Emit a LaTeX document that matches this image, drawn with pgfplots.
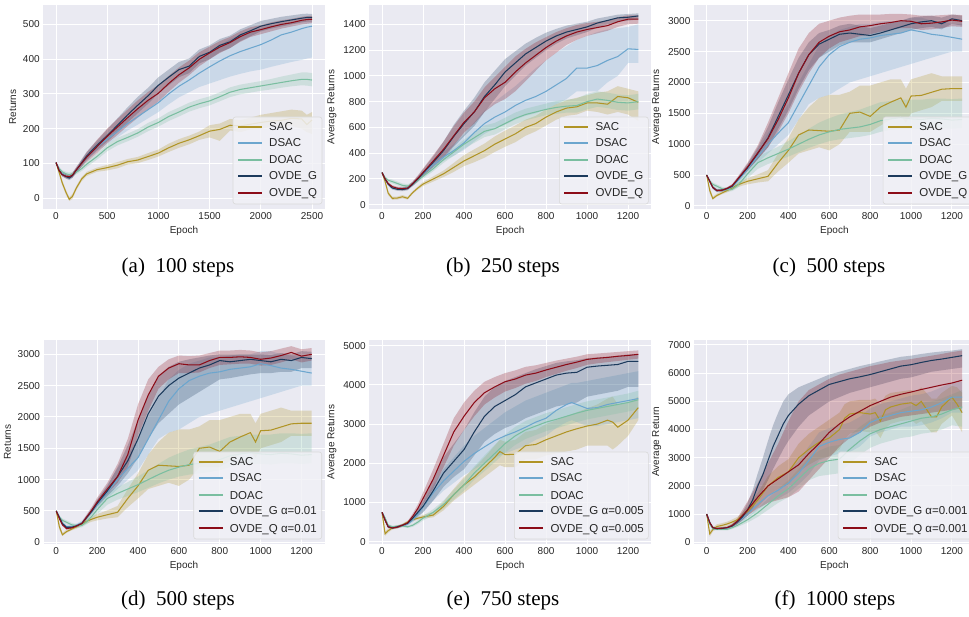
\documentclass[border=0pt]{standalone}
\usepackage{fontspec}
\setmainfont{Liberation Sans}
\newfontfamily\capfont{Liberation Serif}
\usepackage{pgfplots}
\pgfplotsset{compat=1.18}
\usepackage{pgfplotstable}
\usepgfplotslibrary{fillbetween}

\definecolor{bgc}{RGB}{234,234,242}
\definecolor{legc}{RGB}{241,241,246}
\definecolor{labc}{RGB}{38,38,38}
\definecolor{sacc}{RGB}{176,148,38}
\definecolor{dsacc}{RGB}{108,166,206}
\definecolor{doacc}{RGB}{122,190,160}
\definecolor{gc}{RGB}{28,58,92}
\definecolor{qc}{RGB}{140,12,24}

% ---------- panel (a): 100 steps ----------
\pgfplotstableread{
x m l u
0 102 100 104
30 75 70 80
60 45 38 52
100 15 8 22
130 -3 -8 3
160 5 -2 12
200 30 24 36
250 55 49 61
300 70 64 76
400 82 76 88
500 88 80 96
600 95 86 104
700 105 97 113
800 110 101 119
900 120 110 130
1000 130 120 140
1100 145 133 157
1200 158 145 170
1300 168 155 180
1400 180 168 192
1500 193 175 210
1600 198 165 215
1700 210 195 228
1800 208 190 225
1900 213 198 232
2000 218 200 240
2100 222 205 245
2200 224 205 250
2300 230 208 255
2400 228 200 252
2450 212 190 240
2500 225 185 248
}\tAsac
\pgfplotstableread{
x m l u
0 102 100 104
30 85 80 90
60 72 67 77
100 63 57 69
130 60 54 66
160 66 60 72
200 80 73 87
250 100 92 108
300 118 108 128
400 148 135 160
500 170 155 185
600 192 175 208
700 215 195 235
800 235 212 258
900 255 230 280
1000 275 248 302
1100 300 270 330
1200 322 290 355
1300 340 305 378
1400 360 320 400
1500 378 330 420
1600 395 340 440
1700 410 350 458
1800 422 358 470
1900 432 365 480
2000 442 370 490
2100 455 378 497
2200 470 385 503
2300 478 392 507
2400 488 398 510
2450 492 402 510
2500 495 405 510
}\tAdsac
\pgfplotstableread{
x m l u
0 102 100 104
30 85 80 90
60 76 71 81
100 70 64 76
130 68 62 74
160 70 64 76
200 75 69 81
250 85 78 92
300 98 90 106
400 120 111 129
500 145 135 155
600 163 152 174
700 175 164 186
800 188 177 199
900 205 193 217
1000 218 206 230
1100 235 222 248
1200 248 235 261
1300 262 249 275
1400 272 259 285
1500 280 267 293
1600 292 279 305
1700 305 291 319
1800 313 299 327
1900 318 304 332
2000 323 309 337
2100 328 313 343
2200 333 318 350
2300 338 322 356
2400 342 325 362
2450 342 324 362
2500 340 322 360
}\tAdoac
\pgfplotstableread{
x m l u
0 103 101 105
30 80 75 85
60 68 63 73
100 62 56 68
130 58 52 64
160 65 58 72
200 82 74 90
250 102 92 112
300 122 110 134
400 152 138 166
500 180 163 198
600 210 190 230
700 240 218 262
800 268 245 292
900 295 272 318
1000 325 302 348
1100 348 325 370
1200 370 348 392
1300 380 360 402
1400 408 388 428
1500 420 400 440
1600 440 420 458
1700 450 432 468
1800 470 452 486
1900 482 466 498
2000 495 480 510
2100 502 488 516
2200 508 494 522
2300 513 500 526
2400 518 506 530
2450 520 508 531
2500 520 508 530
}\tAg
\pgfplotstableread{
x m l u
0 103 101 105
30 80 75 85
60 68 63 73
100 63 57 69
130 62 56 68
160 66 59 73
200 82 74 90
250 100 90 110
300 118 105 132
400 148 130 168
500 178 158 200
600 205 182 228
700 232 208 255
800 258 232 282
900 282 256 306
1000 302 278 326
1100 330 306 352
1200 355 332 376
1300 375 354 396
1400 400 380 420
1500 418 400 436
1600 435 418 452
1700 448 432 464
1800 465 450 480
1900 478 464 492
2000 485 472 498
2100 493 480 506
2200 500 488 512
2300 505 494 516
2400 512 500 522
2450 514 502 524
2500 515 504 525
}\tAq

% ---------- panel (b): 250 steps ----------
\pgfplotstableread{
x m l u
0 250 245 255
15 180 170 190
30 90 75 105
50 50 38 62
75 52 40 64
100 62 50 75
125 50 40 62
150 95 85 105
175 130 118 142
200 160 145 175
250 200 180 220
300 240 215 265
350 290 255 325
400 340 300 385
450 380 330 430
500 420 365 475
550 470 410 530
600 510 450 575
650 550 485 615
700 600 535 660
750 630 570 690
800 680 615 740
850 720 660 780
900 750 690 810
950 760 700 830
1000 790 730 850
1050 790 720 870
1100 780 700 880
1150 840 720 920
1200 830 700 900
1250 795 650 880
}\tBsac
\pgfplotstableread{
x m l u
0 250 245 255
15 200 190 210
30 160 150 170
50 135 125 145
75 125 115 135
100 125 115 135
125 135 125 145
150 165 155 178
175 200 188 215
200 240 225 258
250 310 290 335
300 370 340 410
350 420 380 470
400 480 425 545
450 560 490 640
500 630 550 730
550 680 590 800
600 720 620 860
650 770 660 920
700 810 690 990
750 840 710 1060
800 880 740 1120
850 930 780 1180
900 980 820 1230
950 1060 880 1280
1000 1060 880 1310
1050 1080 880 1340
1100 1120 950 1360
1150 1150 1000 1370
1200 1210 1100 1380
1250 1205 1100 1400
}\tBdsac
\pgfplotstableread{
x m l u
0 250 245 255
15 210 200 220
30 190 178 202
50 180 165 195
75 165 150 180
100 150 135 165
125 145 130 160
150 160 145 175
175 190 175 205
200 220 203 237
250 280 260 300
300 350 325 375
350 410 380 440
400 470 435 505
450 520 480 560
500 570 525 615
550 590 545 635
600 630 585 675
650 670 625 715
700 700 655 745
750 720 675 765
800 740 695 785
850 755 705 805
900 765 715 815
950 770 715 825
1000 800 740 860
1050 820 760 880
1100 810 750 870
1150 795 735 855
1200 790 730 850
1250 800 740 860
}\tBdoac
\pgfplotstableread{
x m l u
0 250 245 255
15 200 190 210
30 160 150 170
50 130 118 142
75 120 108 132
100 118 105 130
125 125 112 140
150 160 145 178
175 200 180 222
200 245 220 275
250 330 290 375
300 420 360 490
350 530 450 620
400 630 530 730
450 720 610 830
500 840 720 950
550 930 820 1040
600 1030 920 1130
650 1100 1000 1190
700 1170 1080 1250
750 1220 1140 1295
800 1270 1200 1335
850 1310 1250 1365
900 1340 1290 1390
950 1360 1315 1405
1000 1380 1340 1420
1050 1410 1375 1445
1100 1430 1400 1460
1150 1450 1420 1475
1200 1455 1428 1480
1250 1465 1440 1485
}\tBg
\pgfplotstableread{
x m l u
0 250 245 255
15 200 190 210
30 165 155 175
50 140 128 152
75 128 115 140
100 125 112 138
125 130 117 145
150 165 150 182
175 205 185 228
200 250 225 280
250 340 300 385
300 430 370 490
350 535 460 610
400 640 560 715
450 720 630 800
500 830 720 910
550 900 780 990
600 950 820 1070
650 1030 880 1150
700 1100 960 1210
750 1160 1040 1260
800 1220 1120 1300
850 1270 1180 1340
900 1310 1240 1370
950 1340 1280 1395
1000 1360 1310 1410
1050 1375 1330 1420
1100 1390 1350 1430
1150 1420 1380 1455
1200 1440 1400 1470
1250 1440 1405 1470
}\tBq

% ---------- panels (c),(d): 500 steps ----------
\pgfplotstableread{
x m l u
0 500 490 510
15 250 200 300
30 120 100 150
50 170 150 200
75 210 190 240
100 250 220 280
125 290 260 320
150 340 300 380
175 370 330 410
200 400 350 450
250 440 380 510
300 480 400 580
350 700 560 850
400 900 700 1100
450 1150 850 1400
500 1230 900 1600
550 1220 950 1750
600 1210 900 1800
650 1230 1000 1800
700 1500 1200 1850
750 1520 1200 1950
800 1450 1200 1950
850 1600 1300 2000
900 1680 1400 2050
950 1750 1450 2050
975 1600 1350 1900
1000 1780 1500 2050
1050 1790 1550 2100
1100 1840 1600 2150
1150 1890 1700 2100
1200 1900 1700 2100
1250 1900 1700 2100
}\tCsac
\pgfplotstableread{
x m l u
0 500 490 510
15 400 370 430
30 300 270 330
50 250 220 280
75 250 220 280
100 270 240 300
125 310 280 345
150 400 360 440
175 500 450 560
200 600 540 670
250 800 700 920
300 1000 850 1180
350 1180 1000 1400
400 1350 1150 1650
450 1650 1400 2000
500 1950 1650 2300
550 2250 1750 2600
600 2450 1800 2750
650 2580 1900 2850
700 2650 2000 2900
750 2700 2050 2950
800 2720 2100 2950
850 2760 2150 2980
900 2780 2200 3000
950 2800 2250 3000
1000 2850 2300 3050
1050 2820 2350 3050
1100 2780 2400 3000
1150 2760 2450 2980
1200 2730 2500 2950
1250 2700 2500 2950
}\tCdsac
\pgfplotstableread{
x m l u
0 500 490 510
15 400 370 430
30 350 320 380
50 320 290 350
75 280 250 310
100 260 230 290
125 270 240 300
150 330 290 370
175 420 370 470
200 520 450 590
250 700 600 800
300 780 680 880
350 850 740 960
400 920 800 1050
450 1000 870 1150
500 1080 940 1250
550 1150 1000 1350
600 1200 1050 1420
650 1240 1080 1480
700 1260 1100 1520
750 1280 1120 1560
800 1320 1150 1620
850 1380 1200 1680
900 1410 1230 1700
950 1430 1250 1720
1000 1410 1250 1720
1050 1400 1240 1720
1100 1420 1260 1740
1150 1410 1260 1740
1200 1390 1250 1730
1250 1400 1260 1740
}\tCdoac
\pgfplotstableread{
x m l u
0 500 490 510
15 400 380 420
30 300 280 320
50 250 230 270
75 255 235 275
100 280 260 300
125 320 295 345
150 420 390 450
175 520 480 560
200 620 570 680
250 850 760 950
300 1100 950 1280
350 1450 1250 1680
400 1800 1550 2050
450 2150 1900 2400
500 2450 2200 2650
550 2620 2400 2800
600 2700 2500 2850
650 2780 2600 2920
700 2800 2650 2950
750 2780 2650 2920
800 2760 2650 2880
850 2800 2700 2920
900 2850 2750 2960
950 2900 2800 3000
1000 2950 2850 3050
1050 2980 2880 3070
1100 3000 2900 3080
1150 2950 2860 3050
1200 3030 2950 3100
1250 3000 2920 3080
}\tCg
\pgfplotstableread{
x m l u
0 500 490 510
15 400 380 420
30 300 280 320
50 250 230 270
75 255 235 275
100 285 265 305
125 330 305 355
150 430 400 465
175 530 490 580
200 630 580 700
250 860 760 980
300 1090 950 1350
350 1400 1200 1750
400 1750 1500 2150
450 2150 1850 2550
500 2450 2150 2800
550 2650 2400 2950
600 2750 2550 3000
650 2820 2650 3050
700 2850 2700 3080
750 2900 2750 3100
800 2920 2780 3100
850 2950 2820 3100
900 2970 2850 3110
950 3000 2880 3110
1000 2990 2880 3100
1050 2950 2850 3080
1100 2960 2860 3080
1150 2980 2880 3090
1200 3010 2910 3100
1250 2990 2900 3090
}\tCq
\pgfplotstableread{
x m l u
0 500 490 510
15 400 380 420
30 300 280 320
50 240 220 260
75 240 220 260
100 265 245 285
125 300 280 320
150 400 375 425
175 500 470 530
200 620 570 680
250 820 740 900
300 1050 900 1200
350 1300 1100 1550
400 1650 1350 1950
450 2050 1650 2350
500 2330 1900 2650
550 2500 2050 2800
600 2620 2200 2880
650 2700 2300 2920
700 2780 2400 2950
750 2830 2500 2980
800 2900 2600 3000
850 2880 2620 3000
900 2900 2650 3000
950 2920 2680 3000
1000 2900 2700 3000
1050 2880 2700 2990
1100 2920 2720 3020
1150 2900 2720 3000
1200 2950 2780 3050
1250 2930 2780 3040
}\tDg
\pgfplotstableread{
x m l u
0 500 490 510
15 380 360 400
30 280 260 300
50 220 200 240
75 230 210 250
100 260 240 280
125 300 275 325
150 410 380 450
175 520 480 570
200 640 590 710
250 850 780 950
300 1050 950 1250
350 1400 1200 1650
400 1950 1700 2200
450 2350 2100 2600
500 2650 2450 2800
550 2780 2600 2920
600 2850 2700 2980
650 2830 2700 2970
700 2830 2710 2980
750 2900 2780 3020
800 2950 2830 3060
850 2950 2840 3060
900 2960 2850 3070
950 2950 2850 3060
1000 2920 2820 3030
1050 2940 2830 3050
1100 2980 2870 3090
1150 3030 2920 3130
1200 2970 2870 3080
1250 3000 2900 3100
}\tDq

% ---------- panel (e): 750 steps ----------
\pgfplotstableread{
x m l u
0 750 740 760
15 200 150 260
30 280 230 330
50 350 310 390
75 380 340 420
100 420 380 460
125 500 460 540
150 560 520 600
175 600 560 640
200 630 590 680
250 680 620 760
300 900 800 1020
350 1200 1050 1350
400 1450 1250 1650
450 1650 1450 1880
500 1900 1650 2150
550 2150 1850 2450
575 2300 1950 2600
600 2220 1900 2550
650 2230 1900 2600
700 2450 2100 2800
750 2480 2100 2850
800 2600 2200 3000
850 2700 2250 3100
900 2800 2300 3200
950 2880 2350 3300
1000 2950 2450 3400
1050 3000 2450 3500
1100 3100 2450 3650
1125 3050 2350 3700
1150 2920 2450 3500
1200 3100 2700 3550
1250 3420 3100 3700
}\tEsac
\pgfplotstableread{
x m l u
0 750 740 760
15 600 560 640
30 400 370 430
50 360 330 390
75 380 350 410
100 400 370 430
125 450 410 490
150 550 490 620
175 700 600 800
200 880 750 1000
250 1250 1050 1450
300 1550 1300 1850
350 1800 1500 2150
400 2050 1700 2450
450 2250 1850 2700
500 2420 2000 2900
550 2580 2150 3100
600 2700 2250 3300
650 2800 2350 3450
700 2920 2450 3600
750 3050 2600 3700
800 3150 2700 3800
850 3350 2900 3900
900 3500 3050 4000
925 3550 3100 4050
950 3500 3050 4050
1000 3400 2950 4100
1050 3420 2950 4150
1100 3500 3000 4200
1150 3550 3050 4250
1200 3600 3100 4300
1250 3650 3150 4350
}\tEdsac
\pgfplotstableread{
x m l u
0 750 740 760
15 600 570 630
30 420 390 450
50 380 350 410
75 390 360 420
100 400 370 430
125 380 350 410
150 420 380 460
175 500 450 550
200 600 540 660
250 750 670 830
300 950 850 1050
350 1200 1080 1320
400 1450 1300 1600
450 1750 1580 1920
500 2000 1800 2200
550 2250 2030 2470
600 2500 2270 2730
650 2700 2470 2930
700 2850 2620 3080
750 2950 2720 3180
800 3050 2820 3280
850 3120 2890 3350
900 3200 2970 3430
950 3280 3050 3510
1000 3350 3120 3580
1050 3400 3170 3630
1100 3450 3220 3680
1150 3500 3270 3730
1200 3550 3320 3780
1250 3620 3380 3850
}\tEdoac
\pgfplotstableread{
x m l u
0 750 740 760
15 550 520 580
30 380 350 410
50 350 320 380
75 380 350 410
100 420 390 450
125 470 430 510
150 600 540 660
175 750 650 850
200 900 750 1050
250 1300 1050 1600
300 1750 1400 2150
350 2050 1650 2500
400 2350 1850 2850
450 2800 2200 3300
500 3200 2550 3700
550 3450 2750 3950
600 3600 2900 4100
650 3750 3000 4200
700 3950 3150 4300
750 4050 3250 4400
800 4150 3350 4480
850 4250 3450 4560
900 4300 3500 4600
950 4320 3550 4630
1000 4450 3700 4680
1050 4480 3750 4700
1100 4500 3800 4720
1150 4520 3850 4740
1200 4600 3950 4780
1250 4600 3950 4780
}\tEg
\pgfplotstableread{
x m l u
0 750 740 760
15 550 520 580
30 380 350 410
50 350 320 380
75 370 340 400
100 420 390 450
125 480 440 520
150 650 580 720
175 850 750 950
200 1100 950 1250
250 1600 1350 1850
300 2200 1900 2500
350 2800 2450 3150
400 3200 2850 3550
450 3550 3200 3850
500 3800 3500 4080
550 3950 3680 4200
600 4080 3830 4300
650 4150 3920 4370
700 4250 4030 4460
750 4300 4100 4500
800 4380 4200 4560
850 4450 4280 4620
900 4520 4360 4670
950 4580 4430 4720
1000 4650 4510 4780
1050 4680 4550 4800
1100 4700 4580 4820
1150 4730 4610 4840
1200 4750 4640 4860
1250 4780 4670 4880
}\tEq

% ---------- panel (f): 1000 steps ----------
\pgfplotstableread{
x m l u
0 1000 980 1020
15 300 200 400
30 450 380 520
50 560 480 640
75 600 520 680
100 650 570 730
125 720 630 810
150 800 700 900
175 950 830 1070
200 1100 950 1250
250 1500 1250 1750
300 2000 1650 2350
350 2300 1900 2700
400 2500 2050 2950
450 3000 2500 3500
500 3300 2750 3850
550 3550 2950 4100
600 3700 3050 4350
650 4000 3300 4600
675 4400 3650 4900
700 4550 3850 5000
750 4600 3950 5050
800 4550 3900 5050
825 4600 3950 5100
850 4300 3700 4900
875 4700 4050 5200
900 4800 4200 5300
950 4900 4300 5350
1000 4950 4350 5400
1025 4850 4200 5350
1050 5000 4300 5500
1100 4450 3900 5100
1125 4450 3900 5100
1150 4800 4200 5300
1200 5150 4500 5550
1225 4900 4200 5500
1250 4600 3900 5300
}\tFsac
\pgfplotstableread{
x m l u
0 1000 980 1020
15 700 650 750
30 500 460 540
50 480 440 520
75 490 450 530
100 500 460 540
125 600 550 650
150 720 650 800
175 850 750 950
200 1000 870 1150
250 1350 1150 1550
300 1650 1400 1950
350 1850 1550 2200
400 2100 1750 2500
450 2450 2050 2900
500 2900 2400 3400
550 3400 2900 3900
600 3550 3050 4050
650 3650 3150 4150
700 3700 3200 4250
750 3900 3400 4450
800 4250 3750 4750
850 4400 3900 4900
900 4500 4000 5000
950 4600 4100 5100
1000 4650 4100 5200
1050 4700 4150 5250
1100 4800 4250 5350
1150 4950 4400 5500
1200 5150 4600 5650
1250 5150 4600 5700
}\tFdsac
\pgfplotstableread{
x m l u
0 1000 980 1020
15 650 600 700
30 480 440 520
50 460 420 500
75 460 420 500
100 460 420 500
125 520 470 570
150 600 540 660
175 700 620 780
200 800 700 900
250 1050 900 1200
300 1350 1150 1550
350 1650 1400 1900
400 1900 1600 2200
450 2250 1900 2600
500 2600 2200 3000
550 2800 2350 3250
600 2900 2400 3400
650 2950 2450 3450
700 3300 2800 3800
750 3600 3100 4100
800 3850 3350 4350
850 4000 3500 4500
900 4100 3600 4600
950 4200 3700 4700
1000 4300 3750 4850
1050 4400 3850 4950
1100 4450 3900 5000
1150 4550 4000 5100
1200 4700 4150 5250
1250 4800 4100 5400
}\tFdoac
\pgfplotstableread{
x m l u
0 1000 980 1020
15 700 650 750
30 520 480 560
50 480 440 520
75 490 450 530
100 520 480 560
125 580 530 630
150 720 640 800
175 900 780 1050
200 1150 950 1400
225 1500 1200 1850
250 2000 1550 2450
275 2400 1850 3000
300 2900 2200 3600
325 3400 2600 4150
350 3800 2950 4600
375 4200 3300 5000
400 4500 3600 5250
450 4900 4100 5500
500 5200 4500 5650
550 5400 4750 5800
600 5600 5000 5950
650 5700 5150 6050
700 5800 5300 6150
750 5870 5400 6250
800 5950 5500 6330
850 6050 5600 6420
900 6150 5700 6500
950 6250 5800 6580
1000 6300 5850 6620
1050 6380 5950 6680
1100 6450 6050 6730
1150 6500 6100 6770
1200 6560 6150 6800
1250 6620 6200 6850
}\tFg
\pgfplotstableread{
x m l u
0 1000 980 1020
15 700 650 750
30 520 480 560
50 490 450 530
75 500 460 540
100 520 480 560
125 600 540 660
150 750 650 850
175 950 800 1150
200 1150 950 1450
250 1600 1200 2100
300 2000 1400 2800
350 2250 1500 3500
400 2500 1600 4300
450 2750 1800 5000
500 3150 2200 5400
550 3500 2600 5600
600 3900 3000 5800
650 4200 3400 5950
700 4450 3700 6050
750 4650 3900 6150
800 4850 4100 6250
850 5000 4250 6320
900 5150 4350 6400
950 5250 4450 6450
1000 5330 4500 6500
1050 5420 4550 6560
1100 5500 4600 6620
1150 5580 4650 6680
1200 5650 4700 6750
1250 5750 4750 6800
}\tFq

% one series: band between l and u, then the mean line
\newcommand{\band}[3]{%
  \addplot[draw=none, forget plot, name path=lo#3] table[x=x,y=l]{#1};
  \addplot[draw=none, forget plot, name path=hi#3] table[x=x,y=u]{#1};
  \addplot[fill=#2, fill opacity=0.25, draw=none, forget plot] fill between[of=lo#3 and hi#3];
  \addplot[color=#2, line width=1.05pt, forget plot] table[x=x,y=m]{#1};
}

% legend box drawn by hand: #1,#2 lower right corner of the axis, #3 box width, #4-#8 labels
% (handle lines sit on whole-pixel rows so they rasterise cleanly)
\newcommand{\seriesbox}[8]{%
  \begin{scope}[shift={(#1pt-2.8pt-#3pt,#2pt+5pt)},
      every node/.style={anchor=base west, inner sep=0pt, text=labc,
        font=\fontsize{11.5}{13.5}\selectfont}]
    \fill[legc, fill opacity=0.85, rounded corners=2.5pt] (0pt,0pt) rectangle (#3pt,87pt);
    \draw[black!15, rounded corners=2.5pt, line width=0.6pt] (0pt,0pt) rectangle (#3pt,87pt);
    \draw[sacc, line width=2pt] (5pt,77pt) -- (29pt,77pt);
    \node at (36pt,73pt) {#4};
    \draw[dsacc, line width=2pt] (5pt,61pt) -- (29pt,61pt);
    \node at (36pt,57pt) {#5};
    \draw[doacc, line width=2pt] (5pt,44pt) -- (29pt,44pt);
    \node at (36pt,40pt) {#6};
    \draw[gc, line width=2pt] (5pt,28pt) -- (29pt,28pt);
    \node at (36pt,24pt) {#7};
    \draw[qc, line width=2pt] (5pt,11pt) -- (29pt,11pt);
    \node at (36pt,7pt) {#8};
  \end{scope}%
}

\pgfplotsset{
  panel/.style={
    scale only axis, anchor=south west, height=204pt,
    axis background/.style={fill=bgc},
    axis line style={draw=none},
    major tick length=0pt,
    grid=major, grid style={white, line width=1pt},
    tick label style={font=\fontsize{10}{12}\selectfont, text=labc},
    label style={font=\fontsize{10}{12}\selectfont, text=labc},
    xlabel={Epoch},
    /pgf/number format/assume math mode=true,
    /pgf/number format/set thousands separator={},
  },
}

\begin{document}
\begin{tikzpicture}

% (a)
\begin{axis}[panel, at={(43.2pt,407pt)}, width=281.6pt,
  xmin=-125, xmax=2625, ymin=-31, ymax=556,
  xtick={0,500,...,2500}, ytick={0,100,...,500}, ylabel={Returns}]
\band{\tAsac}{sacc}{a1}
\band{\tAdsac}{dsacc}{a2}
\band{\tAdoac}{doacc}{a3}
\band{\tAg}{gc}{a4}
\band{\tAq}{qc}{a5}
\end{axis}

% (b)
\begin{axis}[panel, at={(369.2pt,407pt)}, width=281.9pt,
  xmin=-62.5, xmax=1312.5, ymin=-33, ymax=1550,
  xtick={0,200,...,1200}, ytick={0,200,...,1400}, ylabel={Average Returns}]
\band{\tBsac}{sacc}{b1}
\band{\tBdsac}{dsacc}{b2}
\band{\tBdoac}{doacc}{b3}
\band{\tBg}{gc}{b4}
\band{\tBq}{qc}{b5}
\end{axis}

% (c)
\begin{axis}[panel, at={(693.9pt,407pt)}, width=281pt,
  xmin=-62.5, xmax=1312.5, ymin=-49, ymax=3254,
  xtick={0,200,...,1200}, ytick={0,500,...,3000}, ylabel={Average Returns}]
\band{\tCsac}{sacc}{c1}
\band{\tCdsac}{dsacc}{c2}
\band{\tCdoac}{doacc}{c3}
\band{\tCg}{gc}{c4}
\band{\tCq}{qc}{c5}
\end{axis}

% (d)
\begin{axis}[panel, at={(43.5pt,72pt)}, width=281pt,
  xmin=-62.5, xmax=1312.5, ymin=-27, ymax=3228,
  xtick={0,200,...,1200}, ytick={0,500,...,3000}, ylabel={Returns}]
\band{\tCsac}{sacc}{d1}
\band{\tCdsac}{dsacc}{d2}
\band{\tCdoac}{doacc}{d3}
\band{\tDg}{gc}{d4}
\band{\tDq}{qc}{d5}
\end{axis}

% (e)
\begin{axis}[panel, at={(369.2pt,72pt)}, width=281.9pt,
  xmin=-62.5, xmax=1312.5, ymin=-59, ymax=5145,
  xtick={0,200,...,1200}, ytick={0,1000,...,5000}, ylabel={Average Returns}]
\band{\tEsac}{sacc}{e1}
\band{\tEdsac}{dsacc}{e2}
\band{\tEdoac}{doacc}{e3}
\band{\tEg}{gc}{e4}
\band{\tEq}{qc}{e5}
\end{axis}

% (f)
\begin{axis}[panel, at={(693.9pt,72pt)}, width=281pt,
  xmin=-62.5, xmax=1312.5, ymin=-60, ymax=7176,
  xtick={0,200,...,1200}, ytick={0,1000,...,7000}, ylabel={Average Return}]
\band{\tFsac}{sacc}{f1}
\band{\tFdsac}{dsacc}{f2}
\band{\tFdoac}{doacc}{f3}
\band{\tFg}{gc}{f4}
\band{\tFq}{qc}{f5}
\end{axis}

% legends
\seriesbox{324.8}{407}{89}{SAC}{DSAC}{DOAC}{OVDE\_G}{OVDE\_Q}
\seriesbox{651.1}{407}{89}{SAC}{DSAC}{DOAC}{OVDE\_G}{OVDE\_Q}
\seriesbox{974.9}{407}{89}{SAC}{DSAC}{DOAC}{OVDE\_G}{OVDE\_Q}
\seriesbox{324.5}{72}{128}{SAC}{DSAC}{DOAC}{OVDE\_G α=0.01}{OVDE\_Q α=0.01}
\seriesbox{651.1}{72}{134}{SAC}{DSAC}{DOAC}{OVDE\_G α=0.005}{OVDE\_Q α=0.005}
\seriesbox{974.9}{72}{134}{SAC}{DSAC}{DOAC}{OVDE\_G α=0.001}{OVDE\_Q α=0.001}

% sub-captions
\begin{scope}[every node/.style={font=\capfont\fontsize{21}{25}\selectfont}]
\node at (178pt,349pt) {(a)\enspace 100 steps};
\node at (503pt,349pt) {(b)\enspace 250 steps};
\node at (829pt,349pt) {(c)\enspace 500 steps};
\node at (178pt,16pt) {(d)\enspace 500 steps};
\node at (503pt,16pt) {(e)\enspace 750 steps};
\node at (835pt,16pt) {(f)\enspace 1000 steps};
\end{scope}

\pgfresetboundingbox
\useasboundingbox (0pt,0pt) rectangle (969pt,616pt);
\end{tikzpicture}
\end{document}
